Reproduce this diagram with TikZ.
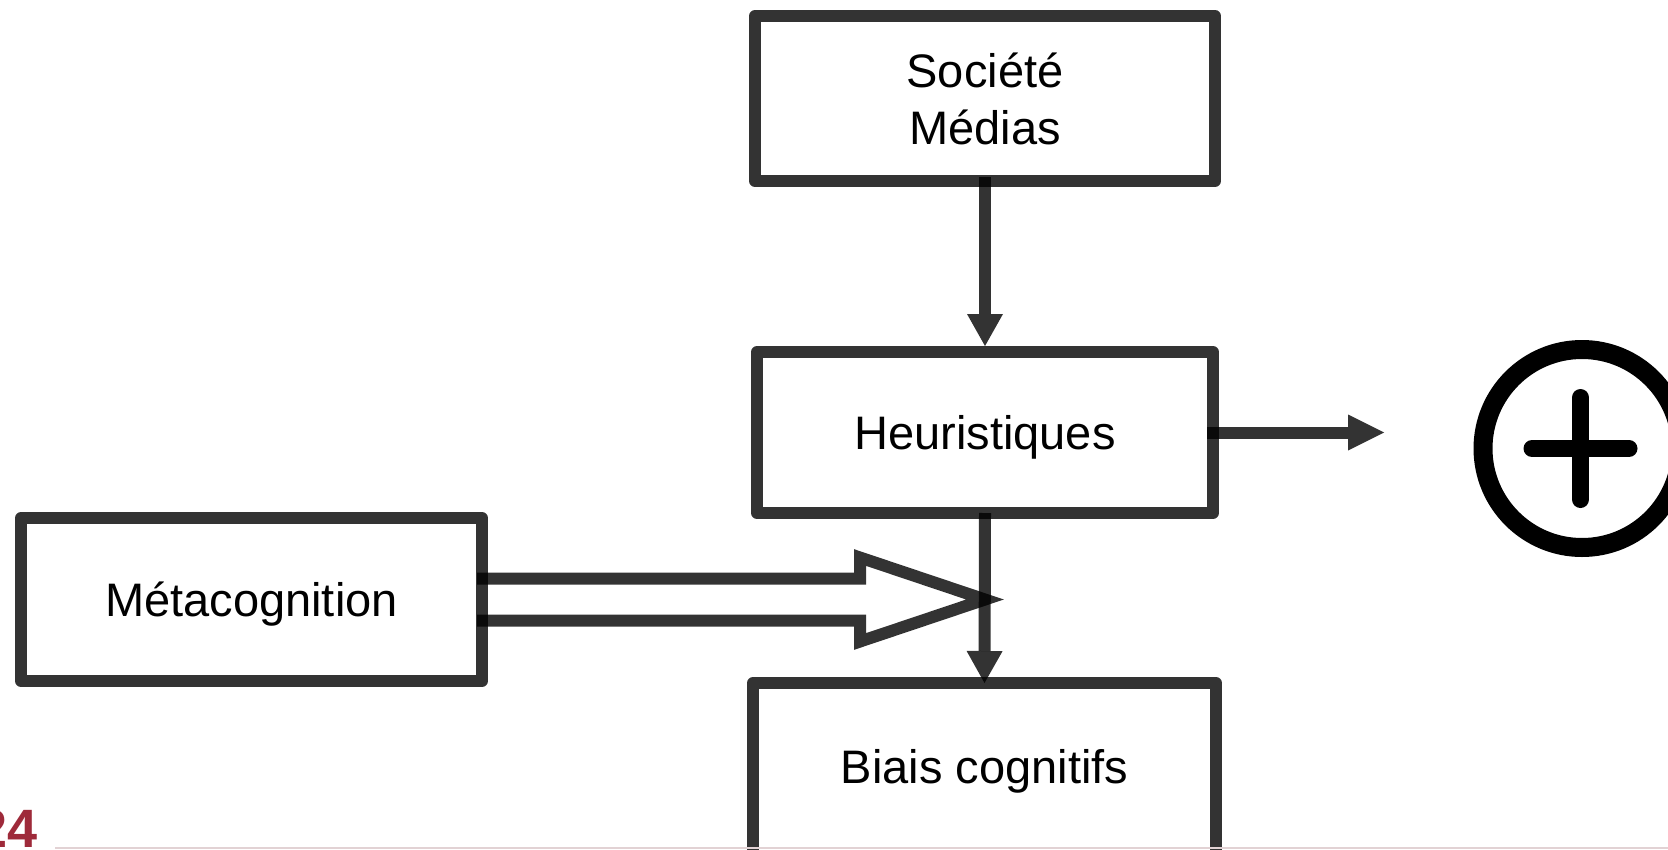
\documentclass[tikz,border=0pt]{standalone}
\usepackage{fontspec}
\setmainfont{Liberation Sans}
\usetikzlibrary{arrows.meta,calc}
\definecolor{pagenum}{HTML}{9E2A3A}
\definecolor{footrule}{HTML}{E2D2D4}
\begin{document}
\begin{tikzpicture}[x=1pt,y=-1pt,
  box/.style={draw=black,draw opacity=0.8,line width=12pt,line join=round,fill=white,
    inner sep=0pt,outer sep=0pt,align=center,font=\fontsize{47}{57}\selectfont},
  lowtext/.style={text height=40pt,text depth=5.5pt},
  conn/.style={draw=black,opacity=0.8,line width=12pt,
    -{Triangle[length=32pt,width=36pt,line width=0pt]}},
  connbig/.style={draw=black,opacity=0.8,line width=12pt,
    -{Triangle[length=36pt,width=36pt,line width=0pt]}},
  hollow/.style={draw=black,opacity=0.8,line width=12pt,line join=miter}]
\useasboundingbox (0,0) rectangle (1668,849);
\clip (0,0) rectangle (1668,849);

\node[box,minimum width=460pt,minimum height=165pt] (soc) at (985,98.5) {Société\\Médias};
\node[box,lowtext,minimum width=456pt,minimum height=161pt] (heu) at (985,432.5) {Heuristiques};
\node[box,lowtext,minimum width=461pt,minimum height=163pt] (meta) at (251.5,599.5) {Métacognition};
\node[box,text height=25pt,text depth=14.5pt,minimum width=463pt,minimum height=190pt] (bia) at (984.5,778) {Biais cognitifs};

\coordinate (rt) at (1384,432.5);
\coordinate (tip) at (985,599.5);

\draw[conn,shorten >=6pt] ([yshift=4pt]soc.south) -- (heu.north);
\draw[conn] (heu.south) -- (bia.north);
\draw[connbig] ([xshift=-6pt]heu.east) -- (rt);

\draw[hollow] ($(meta.east)+(-5,-21)$) -- ($(tip)+(-125,-21)$) -- ($(tip)+(-125,-42)$)
  -- (tip) -- ($(tip)+(-125,42)$) -- ($(tip)+(-125,21)$) -- ($(meta.east)+(-5,21)$);

\node[circle,draw=black,line width=19pt,minimum size=198pt,inner sep=0pt] (plus) at (1582,448.5) {};
\draw[black,line width=17pt,line cap=round] ($(plus.center)+(-50,0)$) -- ($(plus.center)+(47,0)$);
\draw[black,line width=17pt,line cap=round] ($(plus.center)+(-1.5,-51)$) -- ($(plus.center)+(-1.5,51)$);

\node[anchor=base east,inner sep=0pt,text=pagenum,font=\fontsize{54}{60}\selectfont\bfseries] (pg) at (38,847) {24};
\draw[footrule,line width=2pt] (55,847.5) -- (1668,847.5);
\end{tikzpicture}
\end{document}
